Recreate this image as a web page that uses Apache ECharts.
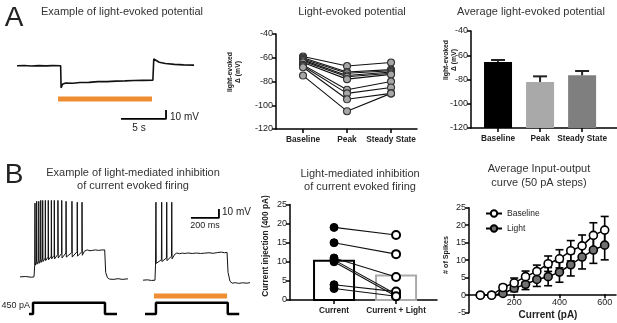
<!DOCTYPE html>
<html lang="en" style="height: 100%">
<head>
<meta charset="utf-8">
<title>Light-evoked potential figure</title>
</head>
<body style="height: 100%; margin: 0; background: #fff">
<div id="container" style="width: 617px; height: 323px"></div>

<script type="text/javascript" src="https://cdn.jsdelivr.net/npm/echarts/dist/echarts.min.js"></script>

<script type="text/javascript">

var dom = document.getElementById('container');
var myChart = echarts.init(dom);

var FONT = "'Liberation Sans', Arial, Helvetica, sans-serif";
var ORANGE = '#ef8d32';

// ---- Panel A: example trace (time in s, mV relative to rest)
var traceA = [
    [0, 0], [0.8, 0.3], [1.6, -0.2], [2.4, 0.2], [3.2, -0.1], [4.0, 0.2], [4.85, 0],
    [4.9, -24.5], [5.05, -20.5], [5.4, -19.2], [6.2, -19.4], [7.0, -18.6], [8.0, -18.4],
    [9.0, -17.6], [10.0, -17.6], [11.0, -17.0], [12.0, -16.8], [13.0, -16.4], [14.0, -16.2],
    [15.1, -16.0], [15.2, 7.5], [15.4, 5.5], [15.8, 4.0], [16.5, 2.6], [17.5, 1.6],
    [18.5, 1.0], [19.67, 0.8]
];
var lightBarA = [[4.56, -37], [15.0, -37]];
var scaleBarA = [[11.56, -59], [16.56, -59], [16.56, -49]];

// ---- Panel A: per-cell light-evoked potential (mV)
var stageCats = ['Baseline', 'Peak', 'Steady State'];
var cellBaseline = [-59, -60, -61, -62, -63, -64, -66, -67, -68, -75];
var cellPeak = [-67, -72, -73, -75, -76, -78, -87, -90, -95, -105];
var cellSteady = [-64, -70, -71, -72, -73, -74, -80, -85, -90, -90];

// ---- Panel A: averages
var avgEvoked = [-65.5, -82, -76.5];
var semEvoked = [1.6, 4.6, 3.5];
var avgColors = ['#000000', '#a9a9a9', '#7f7f7f'];

// ---- Panel B: example traces (time in ms, mV)
var traceB1 = [
    [0, -65], [40, -64.6], [80, -65.4], [100, -65], [105, -52],
    [107, 17], [109, -52], [118, -48],
    [119, 19], [121, -51], [133, -47],
    [134, 19], [136, -50], [147, -46],
    [148, 20], [150, -49], [161, -45],
    [162, 20], [164, -48], [180, -44],
    [181, 20], [183, -47], [201, -43],
    [202, 20], [204, -46], [223, -42],
    [224, 20], [226, -45], [244, -41],
    [245, 20], [247, -45], [270, -40],
    [271, 20], [273, -44], [297, -39],
    [298, 20], [300, -44], [328, -38.5],
    [329, 19], [331, -43], [370, -38],
    [371, 19], [373, -43], [408, -37],
    [409, 18], [411, -42], [442, -37],
    [443, 18], [445, -41], [460, -36.5],
    [480, -35], [500, -36], [520, -35.5], [540, -35], [560, -35.6], [580, -35.2], [605, -35],
    [612, -60], [625, -66], [640, -67.5], [670, -67.8], [700, -67], [730, -67.8], [771, -67.2]
];
var traceB2 = [
    [879, -68.7], [910, -68.3], [940, -69], [964, -68.7], [968, -52],
    [971, 18], [973, -50], [1010, -46],
    [1012, 18], [1014, -48], [1046, -44],
    [1048, 18], [1050, -47], [1082, -42],
    [1084, 18], [1086, -45], [1105, -40],
    [1120, -38.5], [1140, -39.2], [1160, -38.6], [1180, -39], [1200, -38.4], [1230, -39],
    [1260, -38.5], [1290, -39], [1320, -38.6], [1350, -38.2], [1380, -38.8], [1410, -38],
    [1440, -37.5], [1460, -38.2], [1479, -37.8],
    [1486, -60], [1500, -70], [1515, -72], [1540, -71.5], [1560, -72.2], [1590, -71.6],
    [1620, -72], [1643, -71.4]
];
var stepB1 = [[64, 0], [93, 0], [93, 450], [607, 450], [607, 0], [693, 0]];
var stepB2 = [[893, 0], [971, 0], [971, 450], [1484, 450], [1484, 0], [1566, 0]];
var lightBarB = [[957, -86.4], [1479, -86.4]];
var scaleBarB = [[1221, 0.5], [1421, 0.5], [1421, 10.5]];

// ---- Panel B: spikes at 400 pA
var firingCats = ['Current', 'Current + Light'];
var spikesCurrent = [19, 15, 11, 10.5, 10, 4, 3];
var spikesLight = [17, 12, 6, 1.5, 1, 2.2, 1];
var spikesMean = [10.3, 6.4];

// ---- Panel B: input-output curve
var ioSteps = [50, 100, 150, 200, 250, 300, 350, 400, 450, 500, 550, 600];
var ioBaseline = [0, 0, 2.2, 3.5, 5.3, 6.8, 9.0, 10.4, 12.7, 14.1, 17.1, 18.6];
var ioBaselineErr = [0, 0, 0.8, 1.4, 1.6, 1.8, 2.2, 2.6, 2.9, 3.1, 3.6, 3.9];
var ioLight = [0, 0, 0.5, 2.0, 3.1, 4.5, 5.3, 6.6, 8.7, 10.9, 12.9, 14.3];
var ioLightErr = [0, 0, 0.4, 1.0, 1.5, 2.0, 2.6, 2.9, 3.2, 3.4, 3.8, 4.2];

// ---------- helpers
function hiddenAxis(grid, min, max) {
    return { type: 'value', gridIndex: grid, min: min, max: max, show: false };
}
function statY(grid, min, max, interval) {
    return {
        type: 'value', gridIndex: grid, min: min, max: max, interval: interval,
        axisLine: { show: true, onZero: false, lineStyle: { color: '#000', width: 1.5 } },
        axisTick: { show: true, length: 4, lineStyle: { color: '#000', width: 1.5 } },
        axisLabel: { color: '#222', fontSize: 9, fontFamily: FONT, margin: 3 },
        splitLine: { show: false }
    };
}
function catX(grid, min, max, cats) {
    var vals = cats.map(function (c, i) { return i; });
    return {
        type: 'value', gridIndex: grid, min: min, max: max,
        axisLine: { show: true, onZero: false, lineStyle: { color: '#000', width: 1.5 } },
        axisTick: { show: true, length: 4, customValues: vals, lineStyle: { color: '#000', width: 1.5 } },
        axisLabel: {
            customValues: vals, color: '#222', fontSize: 8.3, fontWeight: 'bold', fontFamily: FONT, margin: 7,
            formatter: function (v) { return cats[Math.round(v)]; }
        },
        splitLine: { show: false }
    };
}
function traceLine(xi, data, color, width) {
    return {
        type: 'line', xAxisIndex: xi, yAxisIndex: xi, data: data, symbol: 'none',
        lineStyle: { color: color, width: width }, silent: true
    };
}
function barRender(base, halfW, fills, strokes, lw) {
    return function (params, api) {
        var x = api.value(0), v = api.value(1);
        var p = api.coord([x, v]), b = api.coord([x, base]);
        return {
            type: 'rect',
            shape: { x: p[0] - halfW, y: p[1], width: halfW * 2, height: b[1] - p[1] },
            style: { fill: fills[params.dataIndex], stroke: strokes ? strokes[params.dataIndex] : null, lineWidth: lw || 0 }
        };
    };
}
function errRender(halfCap, both, color, lw) {
    return function (params, api) {
        var x = api.value(0), m = api.value(1), e = api.value(2);
        if (!e) return null;
        var hi = api.coord([x, m + e]);
        var lo = api.coord([x, both ? m - e : m]);
        var st = { stroke: color, lineWidth: lw };
        var ch = [
            { type: 'line', shape: { x1: hi[0], y1: hi[1], x2: lo[0], y2: lo[1] }, style: st },
            { type: 'line', shape: { x1: hi[0] - halfCap, y1: hi[1], x2: hi[0] + halfCap, y2: hi[1] }, style: st }
        ];
        if (both) ch.push({ type: 'line', shape: { x1: lo[0] - halfCap, y1: lo[1], x2: lo[0] + halfCap, y2: lo[1] }, style: st });
        return { type: 'group', children: ch };
    };
}
function txt(x, y, text, size, opts) {
    opts = opts || {};
    return {
        type: 'text', x: x, y: y, rotation: opts.rot || 0, silent: true,
        style: {
            text: text, fill: opts.color || '#222', fontSize: size, fontFamily: FONT,
            fontWeight: opts.bold ? 'bold' : 'normal',
            align: opts.align || 'center', verticalAlign: 'middle', lineHeight: opts.lh || size + 2
        }
    };
}

// ---------- series
var series = [];

// A example trace
series.push(traceLine(0, traceA, '#111', 1.6));
series.push(traceLine(0, lightBarA, ORANGE, 5));
series.push(traceLine(0, scaleBarA, '#000', 1.8));

// A per-cell lines
cellBaseline.forEach(function (b, i) {
    series.push({
        type: 'line', xAxisIndex: 1, yAxisIndex: 1, z: 3,
        data: [[0, b], [1, cellPeak[i]], [2, cellSteady[i]]],
        symbol: 'circle', symbolSize: 7,
        itemStyle: { color: '#a6a6a6', borderColor: '#333', borderWidth: 1.1 },
        lineStyle: { color: '#111', width: 1.1 }
    });
});

// A averages
series.push({
    type: 'custom', xAxisIndex: 2, yAxisIndex: 2,
    data: avgEvoked.map(function (v, i) { return [i, v]; }),
    renderItem: barRender(-120, 14, avgColors)
});
series.push({
    type: 'custom', xAxisIndex: 2, yAxisIndex: 2, z: 3,
    data: avgEvoked.map(function (v, i) { return [i, v, semEvoked[i]]; }),
    renderItem: errRender(7, false, '#222', 2)
});

// B example traces
series.push(traceLine(3, traceB1, '#111', 1));
series.push(traceLine(3, traceB2, '#111', 1));
series.push(traceLine(3, lightBarB, ORANGE, 5));
series.push(traceLine(3, scaleBarB, '#000', 1.8));
series.push(traceLine(4, stepB1, '#000', 2.5));
series.push(traceLine(4, stepB2, '#000', 2.5));

// B spikes at 400 pA
series.push({
    type: 'custom', xAxisIndex: 5, yAxisIndex: 5,
    data: spikesMean.map(function (v, i) { return [i, v]; }),
    renderItem: barRender(0, 20, ['#fff', '#fff'], ['#000', '#aaaaaa'], 2)
});
spikesCurrent.forEach(function (c, i) {
    series.push({
        type: 'line', xAxisIndex: 5, yAxisIndex: 5, z: 3,
        data: [
            { value: [0, c], itemStyle: { color: '#000', borderColor: '#000', borderWidth: 1 } },
            { value: [1, spikesLight[i]], itemStyle: { color: '#fff', borderColor: '#000', borderWidth: 2 } }
        ],
        symbol: 'circle', symbolSize: 8,
        lineStyle: { color: '#111', width: 1.1 }
    });
});

// B input-output
series.push({
    type: 'custom', xAxisIndex: 6, yAxisIndex: 6, z: 2,
    data: ioSteps.map(function (s, i) { return [s, ioLight[i], ioLightErr[i]]; }),
    renderItem: errRender(4, true, '#000', 1.6)
});
series.push({
    type: 'custom', xAxisIndex: 6, yAxisIndex: 6, z: 2,
    data: ioSteps.map(function (s, i) { return [s, ioBaseline[i], ioBaselineErr[i]]; }),
    renderItem: errRender(4, true, '#000', 1.6)
});
series.push({
    name: 'Baseline', type: 'line', xAxisIndex: 6, yAxisIndex: 6, z: 4,
    data: ioSteps.map(function (s, i) { return [s, ioBaseline[i]]; }),
    symbol: 'circle', symbolSize: 8,
    itemStyle: { color: '#fff', borderColor: '#000', borderWidth: 1.6 },
    lineStyle: { color: '#000', width: 1.5 }
});
series.push({
    name: 'Light', type: 'line', xAxisIndex: 6, yAxisIndex: 6, z: 3,
    data: ioSteps.map(function (s, i) { return [s, ioLight[i]]; }),
    symbol: 'circle', symbolSize: 8,
    itemStyle: { color: '#707070', borderColor: '#000', borderWidth: 1.6 },
    lineStyle: { color: '#000', width: 1.5 }
});

var option = {
    animation: false,
    backgroundColor: '#fff',
    textStyle: { fontFamily: FONT },
    grid: [
        { left: 17, top: 55, width: 177, height: 72 },
        { left: 276, top: 34, width: 141, height: 95 },
        { left: 471, top: 31, width: 146, height: 97 },
        { left: 20, top: 195, width: 231, height: 104 },
        { left: 20, top: 299, width: 231, height: 20 },
        { left: 290, top: 204.5, width: 147, height: 95.5 },
        { left: 469, top: 207.7, width: 147, height: 105 }
    ],
    xAxis: [
        hiddenAxis(0, 0, 19.67),
        catX(1, -0.614, 2.59, stageCats),
        catX(2, -0.643, 2.83, stageCats),
        hiddenAxis(3, 0, 1650),
        hiddenAxis(4, 0, 1650),
        catX(5, -0.71, 1.66, firingCats),
        {
            // x axis crosses the y axis at 0 spikes
            type: 'value', gridIndex: 6, min: 0, max: 650, offset: -18.4,
            axisLine: { show: true, onZero: false, lineStyle: { color: '#000', width: 1.5 } },
            axisTick: { show: true, length: 4, customValues: [200, 400, 600], lineStyle: { color: '#000', width: 1.5 } },
            axisLabel: { customValues: [200, 400, 600], color: '#222', fontSize: 9, fontFamily: FONT, margin: 4 },
            splitLine: { show: false }
        }
    ],
    yAxis: [
        hiddenAxis(0, -68, 12),
        statY(1, -120, -40, 20),
        statY(2, -120, -40, 20),
        hiddenAxis(3, -89.6, 26),
        hiddenAxis(4, -200, 600),
        statY(5, 0, 25, 5),
        statY(6, -5, 25, 5)
    ],
    legend: {
        data: ['Baseline', 'Light'],
        left: 485, top: 209, orient: 'vertical', padding: 0,
        itemWidth: 16, itemHeight: 8, itemGap: 6,
        textStyle: { fontSize: 8.5, fontFamily: FONT, color: '#222' }
    },
    graphic: [
        txt(14, 18, 'A', 28),
        txt(14, 175, 'B', 28),
        txt(122, 12, 'Example of light-evoked potential', 11, { color: '#333' }),
        txt(352, 12, 'Light-evoked potential', 11, { color: '#333' }),
        txt(531, 12, 'Average light-evoked potential', 11, { color: '#333' }),
        txt(133, 179, 'Example of light-mediated inhibition\nof current evoked firing', 11, { color: '#333', lh: 13 }),
        txt(360, 180, 'Light-mediated inhibition\nof current evoked firing', 11, { color: '#333', lh: 13 }),
        txt(539, 176, 'Average Input-output\ncurve (50 pA steps)', 11, { color: '#333', lh: 14 }),
        txt(234, 72, 'light-evoked\n\u0394 (mV)', 6.8, { bold: true, rot: Math.PI / 2, lh: 8 }),
        txt(450, 60, 'light-evoked\n\u0394 (mV)', 6.8, { bold: true, rot: Math.PI / 2, lh: 8 }),
        txt(266, 246, 'Current injection (400 pA)', 8.3, { bold: true, rot: Math.PI / 2 }),
        txt(446, 255, '# of Spikes', 7.2, { bold: true, rot: Math.PI / 2 }),
        txt(548, 315, 'Current (pA)', 10, { bold: true }),
        txt(170, 117, '10 mV', 10, { align: 'left' }),
        txt(139, 128, '5 s', 10),
        txt(222, 212, '10 mV', 10, { align: 'left' }),
        txt(205, 226, '200 ms', 9),
        txt(30, 306, '450 pA', 9, { align: 'right' })
    ],
    series: series
};

myChart.setOption(option);
window.addEventListener('resize', myChart.resize);
</script>
</body>
</html>
